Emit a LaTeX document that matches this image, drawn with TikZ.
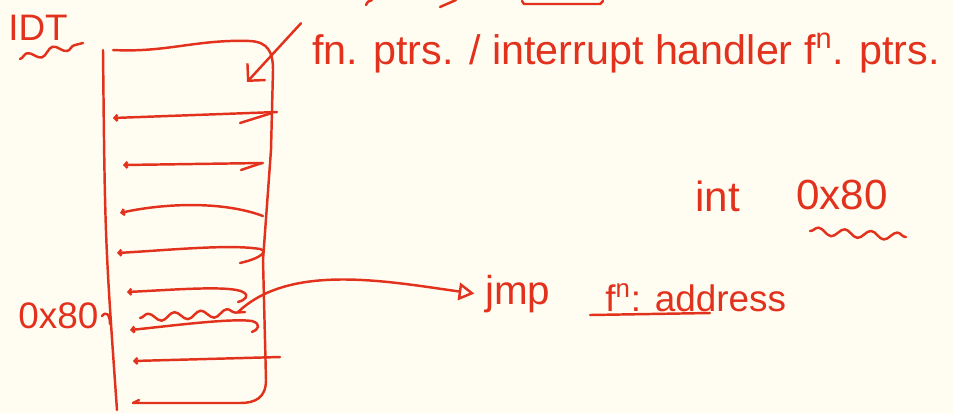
\documentclass[tikz,border=0pt]{standalone}
\usepackage{fontspec}
\setmainfont{Liberation Sans}
\usetikzlibrary{arrows.meta, positioning, calc, decorations.pathmorphing}
\definecolor{InkRed}{HTML}{E2311D}
\definecolor{Paper}{HTML}{FFFDF2}

\begin{document}
\begin{tikzpicture}[
  x=0.02cm, y=-0.02cm,
  ink/.style={draw=InkRed, line width=1.4pt, line cap=round, line join=round},
  scrawl/.style={text=InkRed, font=\fontsize{21}{24}\selectfont, inner sep=0pt},
  big/.style={font=\fontsize{24}{28}\selectfont},
  squiggle/.style={ink, decorate, decoration={snake, amplitude=2.2pt, segment length=15pt}},
  slotrow/.style={ink, {Straight Barb[length=1.6pt, width=3.5pt]}-},
  arrow/.style={ink, -{Triangle[open, length=9pt, width=10pt]}},
  pointer/.style={ink, -{Straight Barb[length=7pt, width=14pt]}}
]
\fill[Paper] (0,0) rectangle (953,414);
\useasboundingbox (0,0) rectangle (953,414);

% leftovers at the top edge
\draw[ink] (372,0) to[out=200, in=90] (366,5);
\draw[ink] (440,7) -- (456,0);
\draw[ink] (522,1) -- (524,4) -- (600,4) -- (603,1);

% labels
\node[scrawl, anchor=base west] (idt) at (8,40) {IDT};
\node[scrawl, font=\fontsize{23.5}{27}\selectfont, anchor=base west] (fnptr) at (312,64) {fn. ptrs. / interrupt handler f\textsuperscript{n}. ptrs.};
\node[scrawl, big, anchor=base west] (int) at (695,211) {int};
\node[scrawl, big, anchor=base west] (intno) at (796,209) {0x80};
\node[scrawl, anchor=base west] (slotno) at (18,328) {0x80};
\node[scrawl, font=\fontsize{23}{27}\selectfont, anchor=base west] (jmp) at (485,304) {jmp};
\node[scrawl, anchor=base west] (addr) at (605,311) {f\textsuperscript{n}: address};

\draw[squiggle] ($(idt.base west)+(12,19)$) -- ($(idt.base west)+(75,3)$);
\draw[squiggle] ($(intno.base west)+(14,22)$) -- ($(intno.base west)+(110,28)$);
\draw[ink] ($(addr.base west)+(-15,4)$) -- ($(addr.base west)+(105,2)$);

% the table
\draw[ink] (103,50) .. controls (105,240) .. (117,410);
\draw[ink] (113,50) to[out=-3, in=178] (250,41)
  .. controls (268,42) and (273,52) .. (273,70)
  -- (271,150) -- (263,260) -- (266,380)
  .. controls (266,398) and (255,403) .. (240,403) -- (133,403);
\draw[ink] (133,403) -- (139,400);
\draw[ink] (102,316) .. controls (106,311) and (110,314) .. (110,324);

% entries
\draw[slotrow] (113,118) -- (277,112);
\draw[ink] (240,123) -- (272,113);
\draw[slotrow] (123,165) -- (263,163);
\draw[ink] (241,170) -- (262,163);
\draw[slotrow] (120,213) .. controls (160,204) and (220,200) .. (263,216);
\draw[slotrow] (117,253) .. controls (170,250) and (230,244) .. (260,249)
  .. controls (268,251) and (262,258) .. (240,263);
\draw[slotrow] (127,292) .. controls (170,290) and (230,285) .. (243,292)
  .. controls (250,296) and (245,300) .. (238,302);
\draw[squiggle] (140,318) -- coordinate[pos=0.93] (slot) (245,312);
\draw[slotrow] (130,330) .. controls (170,326) and (230,318) .. (252,321)
  .. controls (262,324) and (258,330) .. (252,332);
\draw[slotrow] (133,361) -- (280,357);

% pointers
\coordinate (corner) at (247,82);
\draw[pointer] ([shift={(-11,-9)}]fnptr.north west) -- (corner);
\draw[arrow] (slot) .. controls (290,262) and (390,282) .. ([xshift=-6pt]jmp.west);
\end{tikzpicture}
\end{document}
